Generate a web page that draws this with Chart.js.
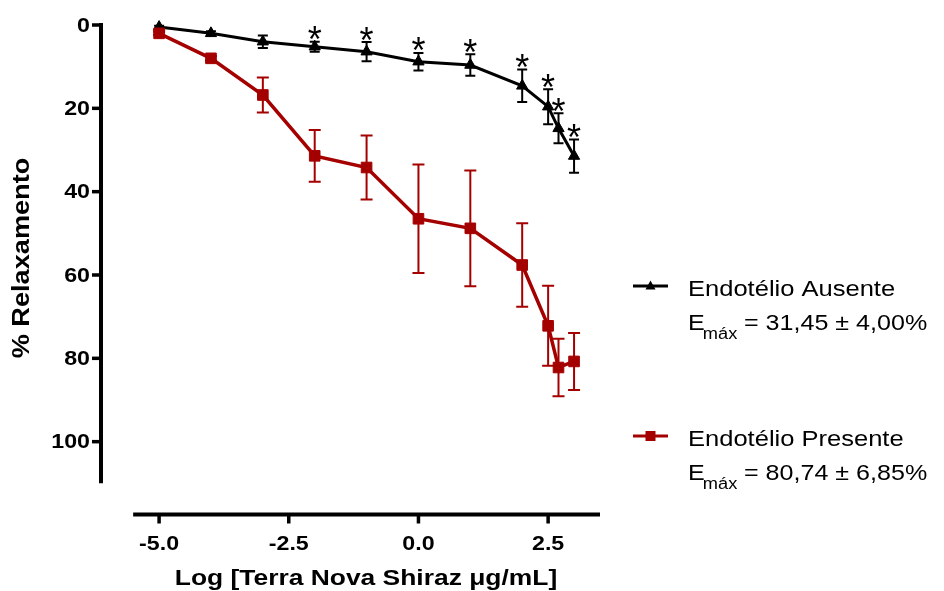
<!DOCTYPE html>
<html>
<head>
<meta charset="utf-8">
<script src="https://cdn.jsdelivr.net/npm/chart.js@4.4.1/dist/chart.umd.min.js"></script>
<style>
    html, body { margin: 0; padding: 0; background: #fff; }
    #wrap { width: 944px; height: 591px; }
</style>
</head>
<body>
<div id="wrap"><canvas id="chart" width="944" height="591"></canvas></div>
<script>
// log concentration (x) and % relaxation (mean, SEM)
const doses = [-5, -4, -3, -2, -1, 0, 1, 2, 2.5, 2.7, 3];
const ausenteMean = [0.5, 2.0, 4.0, 5.2, 6.4, 8.8, 9.6, 14.6, 19.6, 24.8, 31.45];
const ausenteSem = [0.3, 0.5, 1.5, 1.2, 2.3, 2.1, 2.6, 3.9, 4.2, 3.6, 4.0];
const ausenteSig = [false, false, false, true, true, true, true, true, true, true, true];
const presenteMean = [2.0, 8.0, 16.8, 31.4, 34.2, 46.5, 48.8, 57.6, 72.2, 82.2, 80.74];
const presenteSem = [0.4, 0.5, 4.2, 6.2, 7.7, 13.0, 13.9, 10.0, 9.6, 6.9, 6.85];

const xTicks = [-5.0, -2.5, 0.0, 2.5];
const yTicks = [0, 20, 40, 60, 80, 100];
const legendNames = ['Endotélio Ausente', 'Endotélio Presente'];
const emaxTexts = [' = 31,45 \u00b1 4,00%', ' = 80,74 \u00b1 6,85%'];

const BLACK = '#000000';
const RED = '#a50000';
const FONT = 'Arial, "Liberation Sans", Helvetica, sans-serif';
// the original text is a bit wider than Arial, so stretch it along its direction
const STRETCH = 1.16;

const toPoints = (means) => doses.map((d, i) => ({x: d, y: means[i]}));

function stretchedText(ctx, text, x, y, sx, rotate) {
    ctx.save();
    ctx.translate(x, y);
    if (rotate) ctx.rotate(rotate);
    ctx.scale(sx, 1);
    ctx.fillText(text, 0, 0);
    ctx.restore();
}

const prismPlugin = {
    id: 'prismPlugin',

    beforeDatasetsDraw(chart) {
        const ctx = chart.ctx;
        const xs = chart.scales.x;
        const ys = chart.scales.y;
        ctx.save();

        // Error bars, under the markers
        const bars = [
            {mean: ausenteMean, sem: ausenteSem, color: BLACK, cap: 5},
            {mean: presenteMean, sem: presenteSem, color: RED, cap: 6}
        ];
        bars.forEach(b => {
            ctx.strokeStyle = b.color;
            ctx.lineWidth = 2;
            doses.forEach((d, i) => {
                const px = xs.getPixelForValue(d);
                const top = ys.getPixelForValue(b.mean[i] - b.sem[i]);
                const bot = ys.getPixelForValue(b.mean[i] + b.sem[i]);
                ctx.beginPath();
                ctx.moveTo(px, top);
                ctx.lineTo(px, bot);
                ctx.moveTo(px - b.cap, top);
                ctx.lineTo(px + b.cap, top);
                ctx.moveTo(px - b.cap, bot);
                ctx.lineTo(px + b.cap, bot);
                ctx.stroke();
            });
        });

        // Detached axes (Prism style)
        ctx.strokeStyle = '#000';
        ctx.fillStyle = '#000';
        ctx.lineWidth = 4;
        const axisX = chart.chartArea.left;
        ctx.beginPath();
        ctx.moveTo(axisX, ys.getPixelForValue(0) - 2);
        ctx.lineTo(axisX, ys.getPixelForValue(110));
        ctx.stroke();
        ctx.lineWidth = 3.5;
        ctx.font = 'bold 20px ' + FONT;
        ctx.textAlign = 'right';
        ctx.textBaseline = 'middle';
        yTicks.forEach(v => {
            const py = ys.getPixelForValue(v);
            ctx.beginPath();
            ctx.moveTo(axisX - 9, py);
            ctx.lineTo(axisX, py);
            ctx.stroke();
            stretchedText(ctx, String(v), axisX - 11, py + 1, STRETCH);
        });

        const axisY = chart.chartArea.bottom - 0.5;
        ctx.lineWidth = 4;
        ctx.beginPath();
        ctx.moveTo(xs.getPixelForValue(-5.5), axisY);
        ctx.lineTo(xs.getPixelForValue(3.5), axisY);
        ctx.stroke();
        ctx.lineWidth = 3.5;
        ctx.textAlign = 'center';
        ctx.textBaseline = 'alphabetic';
        xTicks.forEach(v => {
            const px = xs.getPixelForValue(v);
            ctx.beginPath();
            ctx.moveTo(px, axisY);
            ctx.lineTo(px, axisY + 9);
            ctx.stroke();
            stretchedText(ctx, v.toFixed(1), px, 550, STRETCH);
        });
        ctx.restore();
    },

    afterDatasetsDraw(chart) {
        const ctx = chart.ctx;
        const xs = chart.scales.x;
        const ys = chart.scales.y;
        ctx.save();

        // Significance asterisks above the upper cap
        ctx.fillStyle = '#000';
        ctx.font = '36px ' + FONT;
        ctx.textAlign = 'center';
        ctx.textBaseline = 'alphabetic';
        const m = ctx.measureText('*');
        doses.forEach((d, i) => {
            if (!ausenteSig[i]) return;
            const capY = ys.getPixelForValue(ausenteMean[i] - ausenteSem[i]);
            ctx.fillText('*', xs.getPixelForValue(d), capY - 1.5 - m.actualBoundingBoxDescent);
        });

        // Axis titles
        ctx.font = 'bold 23px ' + FONT;
        ctx.textAlign = 'center';
        ctx.textBaseline = 'middle';
        stretchedText(ctx, '% Relaxamento', 23, 258, 1.18, -Math.PI / 2);
        ctx.textBaseline = 'alphabetic';
        ctx.font = 'bold 22px ' + FONT;
        stretchedText(ctx, 'Log [Terra Nova Shiraz \u03bcg/mL]', 366, 585, 1.2);

        // Legend
        const rows = [
            {y: 286, color: BLACK, shape: 'triangle'},
            {y: 436, color: RED, shape: 'square'}
        ];
        rows.forEach((r, i) => {
            ctx.strokeStyle = r.color;
            ctx.fillStyle = r.color;
            ctx.lineWidth = 3;
            ctx.beginPath();
            ctx.moveTo(633, r.y);
            ctx.lineTo(668, r.y);
            ctx.stroke();
            ctx.beginPath();
            if (r.shape === 'triangle') {
                ctx.moveTo(650.5, r.y - 5.5);
                ctx.lineTo(655.5, r.y + 3.5);
                ctx.lineTo(645.5, r.y + 3.5);
                ctx.closePath();
            } else {
                ctx.rect(645.5, r.y - 5, 10, 10);
            }
            ctx.fill();

            ctx.fillStyle = '#000';
            ctx.textAlign = 'left';
            ctx.font = '22px ' + FONT;
            stretchedText(ctx, legendNames[i], 688, r.y + 10, STRETCH);

            // E with subscript "máx"
            const base = r.y + 44;
            ctx.save();
            ctx.translate(688, base);
            ctx.scale(1.14, 1);
            ctx.fillText('E', 0, 0);
            ctx.font = '16px ' + FONT;
            ctx.fillText('máx', 13, 9);
            ctx.font = '22px ' + FONT;
            ctx.fillText(emaxTexts[i], 43, 0);
            ctx.restore();
        });
        ctx.restore();
    }
};

new Chart(document.getElementById('chart'), {
    type: 'line',
    data: {
        datasets: [
            {
                label: legendNames[1],
                data: toPoints(presenteMean),
                borderColor: RED,
                backgroundColor: RED,
                borderWidth: 3.5,
                pointStyle: 'rect',
                pointRadius: 7.5,
                pointBorderWidth: 1,
                tension: 0,
                clip: false
            },
            {
                label: legendNames[0],
                data: toPoints(ausenteMean),
                borderColor: BLACK,
                backgroundColor: BLACK,
                borderWidth: 3,
                pointStyle: 'triangle',
                pointRadius: 6.5,
                pointBorderWidth: 1,
                tension: 0,
                clip: false
            }
        ]
    },
    options: {
        responsive: false,
        animation: false,
        layout: {padding: {top: 25, right: 344, left: 0, bottom: 0}},
        plugins: {
            legend: {display: false},
            tooltip: {enabled: false}
        },
        scales: {
            x: {
                type: 'linear',
                min: -6.12,
                max: 3.5,
                grid: {display: false, drawTicks: false},
                border: {display: false},
                afterBuildTicks: scale => { scale.ticks = xTicks.map(v => ({value: v})); },
                afterFit: scale => { scale.height = 76; },
                ticks: {display: false}
            },
            y: {
                type: 'linear',
                reverse: true,
                min: 0,
                max: 117.6,
                grid: {display: false, drawTicks: false},
                border: {display: false},
                afterBuildTicks: scale => { scale.ticks = yTicks.map(v => ({value: v})); },
                afterFit: scale => { scale.width = 101; },
                ticks: {display: false}
            }
        }
    },
    plugins: [prismPlugin]
});
</script>
</body>
</html>
